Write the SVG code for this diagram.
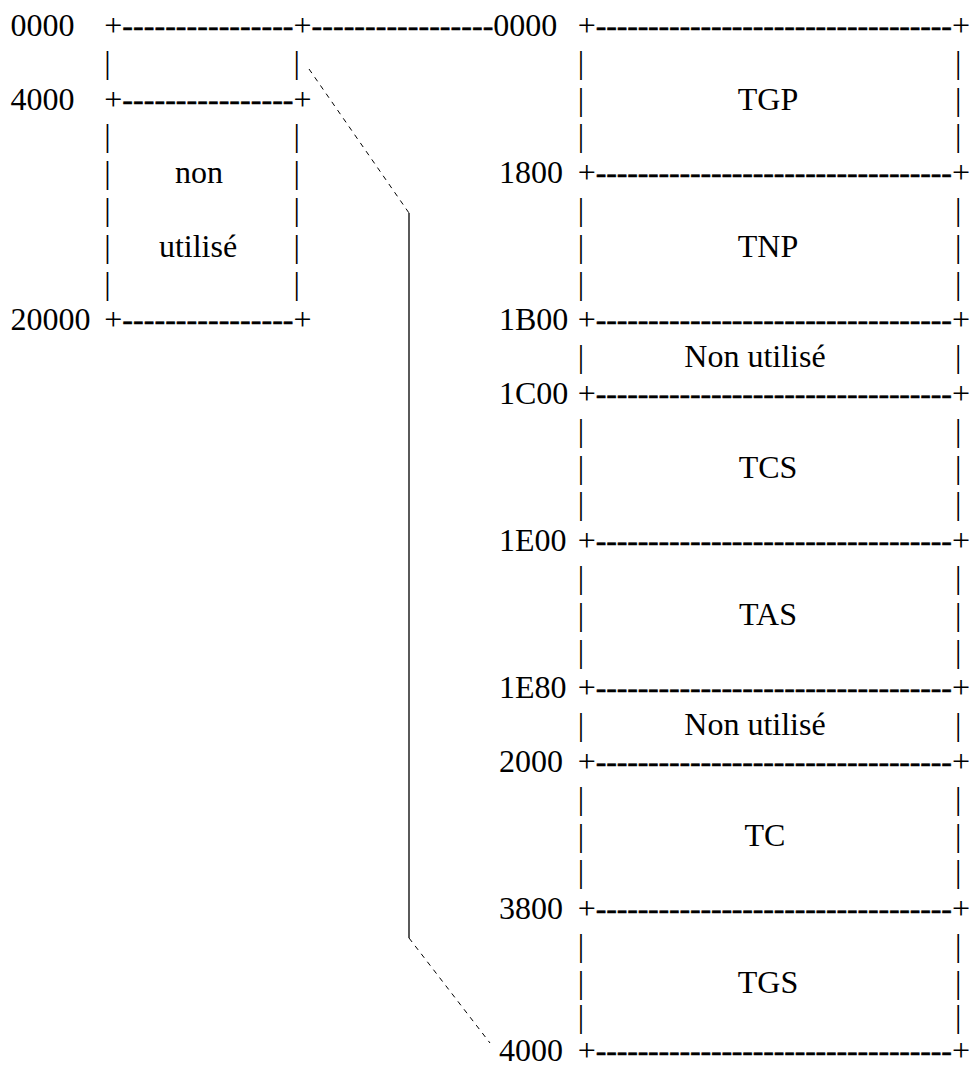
<svg xmlns="http://www.w3.org/2000/svg" width="970" height="1068" viewBox="0 0 970 1068">
<style>
.t{font-family:"Liberation Serif","Times New Roman",serif;font-size:32px;fill:#000}
.c{text-anchor:middle}
.h{stroke:#000;stroke-width:0.5}
.dash{fill:none;stroke:#000;stroke-width:1;stroke-dasharray:5 5}
.solid{fill:none;stroke:#000;stroke-width:1.3}
</style>
<rect width="970" height="1068" fill="#fff"/>
<g id="connectors">
<text class="t h" x="311.55" y="36" textLength="181.75" lengthAdjust="spacing">-----------------</text>
<path class="dash" d="M309,69 L409,213"/>
<path class="solid" d="M409,213 L409,938"/>
<path class="dash" d="M409,938 L490,1043"/>
</g>
<g id="left-map" class="t">
<g id="left-top">
<text x="10.5" y="36">0000</text>
<text x="104.3" y="36">+</text><text class="h" x="122.35" y="36" textLength="171.15" lengthAdjust="spacing">----------------</text><text x="293.5" y="36">+</text>
<text x="104.3" y="72.8">|</text><text x="293.5" y="72.8">|</text>
</g>
<g id="left-unused">
<text x="10.5" y="109.6">4000</text>
<text x="104.3" y="109.6">+</text><text class="h" x="122.35" y="109.6" textLength="171.15" lengthAdjust="spacing">----------------</text><text x="293.5" y="109.6">+</text>
<text x="104.3" y="146.4">|</text><text x="293.5" y="146.4">|</text>
<text x="104.3" y="183.2">|</text><text class="c" x="199" y="183.2">non</text><text x="293.5" y="183.2">|</text>
<text x="104.3" y="220">|</text><text x="293.5" y="220">|</text>
<text x="104.3" y="256.8">|</text><text class="c" x="198" y="256.8">utilisé</text><text x="293.5" y="256.8">|</text>
<text x="104.3" y="293.6">|</text><text x="293.5" y="293.6">|</text>
<text x="10.5" y="330.4">20000</text>
<text x="104.3" y="330.4">+</text><text class="h" x="122.35" y="330.4" textLength="171.15" lengthAdjust="spacing">----------------</text><text x="293.5" y="330.4">+</text>
</g>
</g>
<g id="right-map" class="t">
<g id="seg-tgp">
<text x="493.3" y="36">0000</text>
<text x="577.7" y="36">+</text><text class="h" x="595.75" y="36" textLength="356.15" lengthAdjust="spacing">----------------------------------</text><text x="951.9" y="36">+</text>
<text x="577.7" y="72.8">|</text><text x="955" y="72.8">|</text>
<text x="577.7" y="109.6">|</text><text class="c" x="768" y="109.6">TGP</text><text x="955" y="109.6">|</text>
<text x="577.7" y="146.4">|</text><text x="955" y="146.4">|</text>
</g>
<g id="seg-tnp">
<text x="499" y="183.2">1800</text>
<text x="577.7" y="183.2">+</text><text class="h" x="595.75" y="183.2" textLength="356.15" lengthAdjust="spacing">----------------------------------</text><text x="951.9" y="183.2">+</text>
<text x="577.7" y="220">|</text><text x="955" y="220">|</text>
<text x="577.7" y="256.8">|</text><text class="c" x="768" y="256.8">TNP</text><text x="955" y="256.8">|</text>
<text x="577.7" y="293.6">|</text><text x="955" y="293.6">|</text>
</g>
<g id="seg-unused1">
<text x="499" y="330.4">1B00</text>
<text x="577.7" y="330.4">+</text><text class="h" x="595.75" y="330.4" textLength="356.15" lengthAdjust="spacing">----------------------------------</text><text x="951.9" y="330.4">+</text>
<text x="577.7" y="367.2">|</text><text class="c" x="755" y="367.2">Non utilisé</text><text x="955" y="367.2">|</text>
</g>
<g id="seg-tcs">
<text x="499" y="404">1C00</text>
<text x="577.7" y="404">+</text><text class="h" x="595.75" y="404" textLength="356.15" lengthAdjust="spacing">----------------------------------</text><text x="951.9" y="404">+</text>
<text x="577.7" y="440.8">|</text><text x="955" y="440.8">|</text>
<text x="577.7" y="477.6">|</text><text class="c" x="768" y="477.6">TCS</text><text x="955" y="477.6">|</text>
<text x="577.7" y="514.4">|</text><text x="955" y="514.4">|</text>
</g>
<g id="seg-tas">
<text x="499" y="551.2">1E00</text>
<text x="577.7" y="551.2">+</text><text class="h" x="595.75" y="551.2" textLength="356.15" lengthAdjust="spacing">----------------------------------</text><text x="951.9" y="551.2">+</text>
<text x="577.7" y="588">|</text><text x="955" y="588">|</text>
<text x="577.7" y="624.8">|</text><text class="c" x="768" y="624.8">TAS</text><text x="955" y="624.8">|</text>
<text x="577.7" y="661.6">|</text><text x="955" y="661.6">|</text>
</g>
<g id="seg-unused2">
<text x="499" y="698.4">1E80</text>
<text x="577.7" y="698.4">+</text><text class="h" x="595.75" y="698.4" textLength="356.15" lengthAdjust="spacing">----------------------------------</text><text x="951.9" y="698.4">+</text>
<text x="577.7" y="735.2">|</text><text class="c" x="755" y="735.2">Non utilisé</text><text x="955" y="735.2">|</text>
</g>
<g id="seg-tc">
<text x="499" y="772">2000</text>
<text x="577.7" y="772">+</text><text class="h" x="595.75" y="772" textLength="356.15" lengthAdjust="spacing">----------------------------------</text><text x="951.9" y="772">+</text>
<text x="577.7" y="808.8">|</text><text x="955" y="808.8">|</text>
<text x="577.7" y="845.6">|</text><text class="c" x="765" y="845.6">TC</text><text x="955" y="845.6">|</text>
<text x="577.7" y="882.4">|</text><text x="955" y="882.4">|</text>
</g>
<g id="seg-tgs">
<text x="499" y="919.2">3800</text>
<text x="577.7" y="919.2">+</text><text class="h" x="595.75" y="919.2" textLength="356.15" lengthAdjust="spacing">----------------------------------</text><text x="951.9" y="919.2">+</text>
<text x="577.7" y="956">|</text><text x="955" y="956">|</text>
<text x="577.7" y="992.8">|</text><text class="c" x="768" y="992.8">TGS</text><text x="955" y="992.8">|</text>
<text x="577.7" y="1027">|</text><text x="955" y="1027">|</text>
<text x="499" y="1061">4000</text>
<text x="577.7" y="1061">+</text><text class="h" x="595.75" y="1061" textLength="356.15" lengthAdjust="spacing">----------------------------------</text><text x="951.9" y="1061">+</text>
</g>
</g>
</svg>
